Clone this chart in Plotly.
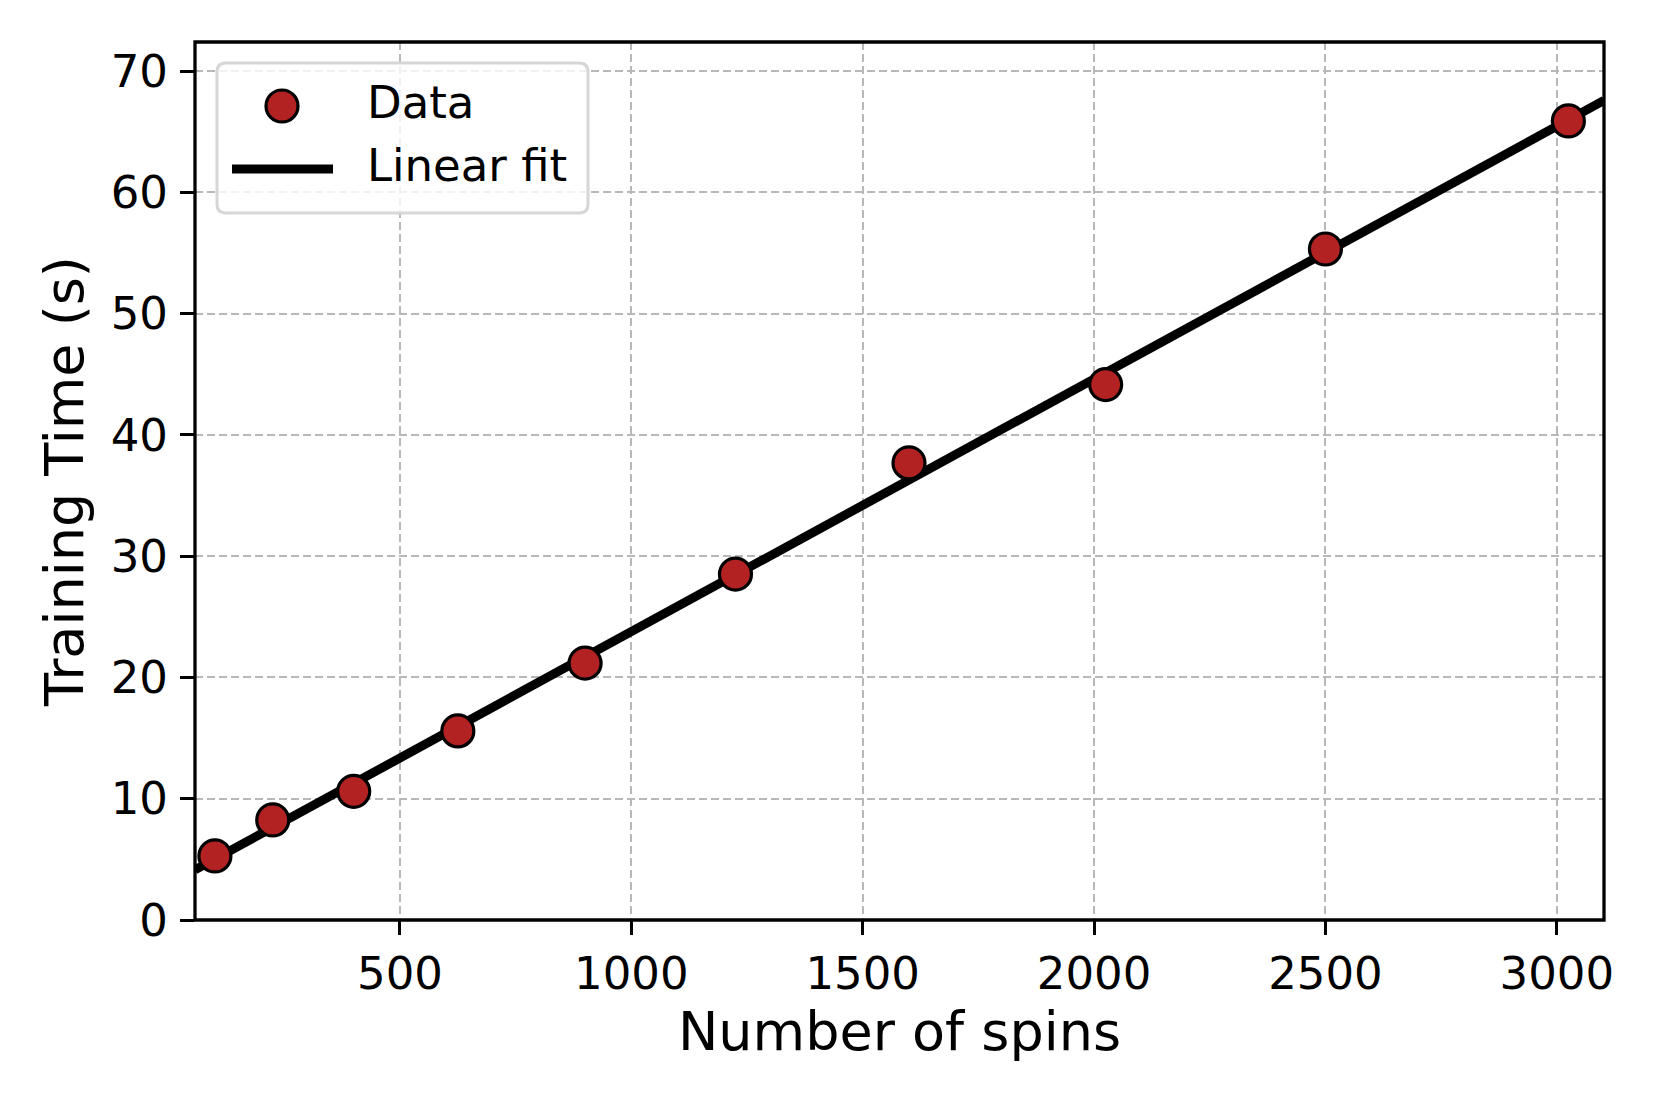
import numpy as np
import plotly.graph_objects as go

# Data
num_spins = [100, 225, 400, 625, 900, 1225, 1600, 2025, 2500, 3025]
train_time = [5.28, 8.25, 10.61, 15.59, 21.18, 28.52, 37.69, 44.15, 55.33, 65.89]
x_ticks = [500, 1000, 1500, 2000, 2500, 3000]
y_ticks = [0, 10, 20, 30, 40, 50, 60, 70]
x_range = [57, 3102]
y_range = [0, 72.4]

slope, intercept = np.polyfit(num_spins, train_time, 1)
x_fit = np.array(x_range, dtype=float)
y_fit = slope * x_fit + intercept

W, H = 1661, 1107
OFF = 8  # default body margin of the html page
L, R, T, B = 195, 1604, 42, 920
pw, ph = R - L, B - T

def dx(px):
    return (px - L) / pw

def dy(py):
    return (B - py) / ph

FONT = "DejaVu Sans"
RED = "#b22222"
TICK_FS = 45
LEG_FS = 45
LAB_FS = 54

fig = go.Figure()
fig.add_trace(go.Scatter(x=x_fit, y=y_fit, mode="lines", name="Linear fit",
                         line=dict(color="black", width=9), showlegend=False))
fig.add_trace(go.Scatter(x=num_spins, y=train_time, mode="markers", name="Data",
                         marker=dict(size=32, color=RED, line=dict(color="black", width=3.2)),
                         showlegend=False, cliponaxis=False))

def rounded_rect(x0, y0, x1, y1, r):
    pts = []
    pts.append(f"M{dx(x0 + r)},{dy(y0)}")
    pts.append(f"L{dx(x1 - r)},{dy(y0)}")
    pts.append(f"Q{dx(x1)},{dy(y0)} {dx(x1)},{dy(y0 + r)}")
    pts.append(f"L{dx(x1)},{dy(y1 - r)}")
    pts.append(f"Q{dx(x1)},{dy(y1)} {dx(x1 - r)},{dy(y1)}")
    pts.append(f"L{dx(x0 + r)},{dy(y1)}")
    pts.append(f"Q{dx(x0)},{dy(y1)} {dx(x0)},{dy(y1 - r)}")
    pts.append(f"L{dx(x0)},{dy(y0 + r)}")
    pts.append(f"Q{dx(x0)},{dy(y0)} {dx(x0 + r)},{dy(y0)}")
    pts.append("Z")
    return " ".join(pts)

shapes = []
shapes.append(dict(type="rect", xref="x domain", yref="y domain", x0=0, x1=1, y0=0, y1=1,
                   line=dict(color="black", width=3.3), fillcolor="rgba(0,0,0,0)", layer="above"))
shapes.append(dict(type="path", xref="x domain", yref="y domain",
                   path=rounded_rect(217, 63, 588, 213, 9),
                   line=dict(color="#d6d6d6", width=3), fillcolor="rgba(255,255,255,0.8)", layer="above"))
shapes.append(dict(type="line", xref="x domain", yref="y domain",
                   x0=dx(232), x1=dx(333), y0=dy(169), y1=dy(169),
                   line=dict(color="black", width=9), layer="above"))
shapes.append(dict(type="circle", xref="x domain", yref="y domain",
                   xsizemode="pixel", ysizemode="pixel",
                   xanchor=dx(282), yanchor=dy(106),
                   x0=-16, x1=16, y0=-16, y1=16,
                   fillcolor=RED, line=dict(color="black", width=3.2), layer="above"))

annotations = [
    dict(text="Data", xref="x domain", yref="y domain", x=dx(365), y=dy(103),
         xanchor="left", yanchor="middle", showarrow=False,
         font=dict(family=FONT, size=LEG_FS, color="black")),
    dict(text="Linear fit", xref="x domain", yref="y domain", x=dx(365), y=dy(165),
         xanchor="left", yanchor="middle", showarrow=False,
         font=dict(family=FONT, size=LEG_FS, color="black")),
]

fig.update_layout(
    width=W - OFF, height=H - OFF,
    margin=dict(l=L - OFF, r=W - R, t=T - OFF, b=H - B),
    paper_bgcolor="white", plot_bgcolor="white",
    font=dict(family=FONT, color="black", size=TICK_FS),
    showlegend=False,
    shapes=shapes, annotations=annotations,
    xaxis=dict(range=x_range, tickvals=x_ticks, ticktext=[str(v) for v in x_ticks],
               ticks="outside", ticklen=14, tickwidth=3.3, tickcolor="black",
               showgrid=True, gridcolor="#b8b8b8", gridwidth=2, griddash="8px,4px",
               zeroline=False, showline=False,
               tickfont=dict(family=FONT, size=TICK_FS),
               title=dict(text="Number of spins", font=dict(family=FONT, size=LAB_FS), standoff=11)),
    yaxis=dict(range=y_range, tickvals=y_ticks, ticktext=[str(v) for v in y_ticks],
               ticks="outside", ticklen=14, tickwidth=3.3, tickcolor="black",
               showgrid=True, gridcolor="#b8b8b8", gridwidth=2, griddash="8px,4px",
               zeroline=False, showline=False, ticklabelstandoff=3,
               tickfont=dict(family=FONT, size=TICK_FS),
               title=dict(text="Training Time (s)", font=dict(family=FONT, size=LAB_FS), standoff=9)),
)

fig.write_html("out.html")
